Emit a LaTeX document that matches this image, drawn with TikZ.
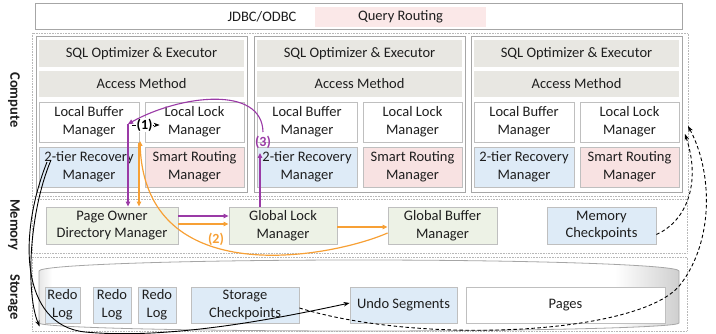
\documentclass[tikz,border=0pt]{standalone}
\usepackage{fontspec}
\setmainfont{Carlito}
\usetikzlibrary{arrows.meta,calc}

\definecolor{edge}{HTML}{BFBFBF}
\definecolor{coledge}{HTML}{A6A6A6}
\definecolor{framegray}{HTML}{B8B8B8}
\definecolor{barfill}{HTML}{E8E7E2}
\definecolor{bluefill}{HTML}{DEEBF7}
\definecolor{pinkfill}{HTML}{F8E2E2}
\definecolor{qrfill}{HTML}{FBE8E8}
\definecolor{greenfill}{HTML}{EDF2E6}
\definecolor{txt}{HTML}{1E1E1E}
\definecolor{purp}{HTML}{9A3AA6}
\definecolor{orng}{HTML}{F7A035}
\definecolor{cylL}{HTML}{E6E6E6}
\definecolor{cylR}{HTML}{CFCFCF}

\begin{document}
\begin{tikzpicture}[x=1pt,y=-1pt,
  font=\fontsize{14.5}{17.7}\selectfont,
  frame/.style={draw=framegray, densely dotted, line width=0.6pt},
  colbox/.style={draw=coledge, line width=0.8pt, fill=white, inner sep=0pt},
  bar/.style={fill=barfill, draw=none, inner sep=0pt, text=txt},
  cell/.style={draw=edge, line width=0.8pt, inner sep=0pt, align=center, text=txt},
  wcell/.style={cell, fill=white},
  bcell/.style={cell, fill=bluefill},
  pcell/.style={cell, fill=pinkfill},
  gcell/.style={cell, fill=greenfill},
  side/.style={font=\fontsize{14.5}{17}\selectfont\bfseries, text=txt, rotate=-90},
  steplabel/.style={font=\fontsize{14}{16}\selectfont\bfseries},
  parrow/.style={draw=purp, line width=1.1pt, -{Triangle[length=5pt,width=4.5pt]}},
  oarrow/.style={draw=orng, line width=1.2pt, -{Triangle[length=5pt,width=4.5pt]}},
  karrow/.style={draw=black, line width=0.9pt, -{Stealth[length=6pt,width=4.5pt]}},
  kdash/.style={karrow, dash pattern=on 3.5pt off 2.5pt}
]
\useasboundingbox (0,0) rectangle (716,334);

% client interface bar
\node[draw=coledge, line width=0.8pt, fill=white, minimum width=647pt, minimum height=26pt, inner sep=0pt] (api) at (358.5,16) {};
\node[text=txt] (jdbc) at (262,17) {JDBC/ODBC};
\node[fill=qrfill, minimum width=171pt, minimum height=20pt, inner sep=0pt, text=txt] (qr) at (400.5,17) {Query Routing};

% layer frames
\draw[frame] (32,33) rectangle (688,196);
\draw[frame] (32,199) rectangle (687,253);
\draw[frame] (32,257) rectangle (687,331);

\node[side] (lcompute) at (14,100) {Compute};
\node[side] (lmemory) at (14,225) {Memory};
\node[side] (lstorage) at (14,297) {Storage};

% compute nodes
\foreach \i/\dx in {1/0,2/218,3/435}{
  \node[colbox, minimum width=211pt, minimum height=156pt] (col\i) at (141.5+\dx,114) {};
  \node[bar, minimum width=205pt, minimum height=27pt] (sql\i) at (141.5+\dx,53.5) {SQL Optimizer \& Executor};
  \node[bar, minimum width=205pt, minimum height=26pt] (am\i) at (141.5+\dx,84) {Access Method};
  \node[wcell, minimum width=100pt, minimum height=40pt] (lb\i) at (89+\dx,122) {Local Buffer\\Manager};
  \node[wcell, minimum width=99pt, minimum height=40pt] (ll\i) at (194.5+\dx,122) {Local Lock\\Manager};
  \node[bcell, minimum width=100pt, minimum height=40pt] (rm\i) at (89+\dx,167) {2-tier Recovery\\Manager};
  \node[pcell, minimum width=99pt, minimum height=40pt] (sr\i) at (194.5+\dx,167) {Smart Routing\\Manager};
}

% memory layer
\node[gcell, minimum width=132pt, minimum height=37pt] (po) at (112,225.5) {Page Owner\\Directory Manager};
\node[gcell, minimum width=108pt, minimum height=37pt] (gl) at (283,225.5) {Global Lock\\Manager};
\node[gcell, minimum width=109pt, minimum height=37pt] (gb) at (442.5,225.5) {Global Buffer\\Manager};
\node[bcell, minimum width=109pt, minimum height=37pt] (mc) at (601.5,225.5) {Memory\\Checkpoints};

% storage cylinder: white body, soft shading at both ends
\def\cylpath{(39,271) arc[start angle=180, end angle=0, x radius=320pt, y radius=11pt]
  -- (679,323) arc[start angle=0, end angle=-180, x radius=320pt, y radius=8pt] -- cycle}
\fill[white] \cylpath;
\begin{scope}
  \clip \cylpath;
  \shade[left color=cylL, right color=white] (39,255) rectangle (52,334);
  \shade[left color=white, right color=cylR] (615,255) rectangle (679,334);
\end{scope}
\draw[coledge, line width=0.8pt] \cylpath;

\node[bcell, minimum width=35pt, minimum height=36pt] (r1) at (62.5,305) {Redo\\Log};
\node[bcell, minimum width=38pt, minimum height=36pt] (r2) at (112,305) {Redo\\Log};
\node[bcell, minimum width=38pt, minimum height=36pt] (r3) at (157,305) {Redo\\Log};
\node[bcell, minimum width=108pt, minimum height=36pt] (sc) at (245,305) {Storage\\Checkpoints};
\node[bcell, minimum width=107pt, minimum height=36pt] (us) at (403.5,305) {Undo Segments};
\node[wcell, minimum width=199pt, minimum height=36pt] (pg) at (565.5,305) {Pages};

% step (1): local buffer asks the local lock manager
\draw[kdash] ([xshift=-7pt,yshift=-3pt]lb1.east) -- ([xshift=15pt,yshift=-3pt]ll1.west)
  node[pos=0.45, fill=white, inner sep=0.3pt, steplabel, text=black] (s1) {(1)};

% step (2): page owner -> global lock -> global buffer -> local buffer
\coordinate (ohead) at (140,141);
\coordinate (ofoot) at (139,143);
\draw[oarrow] ([yshift=1.5pt]po.east) -- ([yshift=1.5pt]gl.west);
\draw[oarrow] ([yshift=-1.5pt]gl.east) -- ([yshift=-1.5pt]gb.west);
\draw[oarrow] ([yshift=-7.5pt]gb.west) .. controls (330,258) and (145,292) .. (ohead);
\draw[oarrow] (ofoot) -- (ofoot |- po.north);
\node[steplabel, text=orng] (s2) at (216,239) {(2)};

% step (3): global lock grants back to the local buffer
\coordinate (phead) at (128,124);
\coordinate (pup) at (260,153);
\coordinate (pstart) at (263,132);
\draw[parrow] ([yshift=9.5pt]po.east) -- ([yshift=9.5pt]gl.west);
\draw[parrow] (pup |- gl.north) -- (pup);
\draw[parrow] (pstart) .. controls (262,85) and (180,95) .. (phead);
\draw[parrow] (phead) -- (phead |- po.north);
\node[steplabel, text=purp] (s3) at (263,142) {(3)};

% recovery manager writes redo and undo
\coordinate (rin) at (51,160);
\coordinate (rout) at (47,162);
\draw[karrow] (rin) .. controls (28,215) and (26,295) .. ([shift={(-5pt,-3pt)}]r1.south west);
\draw[karrow] (rout) .. controls (18,235) and (20,325) .. (85,332) .. controls (170,340) and (280,318) .. ([yshift=2pt]us.west);

% checkpoints feed back to the compute node
\coordinate (tipB) at (688,126);
\coordinate (tipA) at (685,134);
\draw[kdash] ([yshift=-3pt]sc.east) .. controls (420,345) and (640,335) .. (680,285) .. controls (715,240) and (712,170) .. (tipB);
\draw[kdash] ([yshift=-9pt]mc.east) .. controls (685,222) and (702,185) .. (tipA);

\end{tikzpicture}
\end{document}
